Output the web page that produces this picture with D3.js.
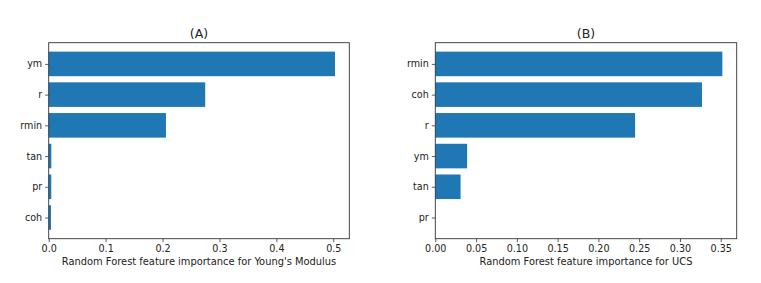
<!DOCTYPE html>
<html>
<head>
<meta charset="utf-8">
<script src="https://cdn.jsdelivr.net/npm/d3@7"></script>
<style>
    body { margin: 0; background: #fff; }
    svg { font-family: "DejaVu Sans", sans-serif; }
</style>
</head>
<body>
<div id="chart"></div>
<script>
// Feature names, top to bottom as shown
const featuresA = ["ym", "r", "rmin", "tan", "pr", "coh"];
const importanceA = [0.503, 0.275, 0.206, 0.0046, 0.0045, 0.004];
const ticksA = [0.0, 0.1, 0.2, 0.3, 0.4, 0.5];

const featuresB = ["rmin", "coh", "r", "ym", "tan", "pr"];
const importanceB = [0.352, 0.327, 0.245, 0.039, 0.031, 0.0];
const ticksB = [0.00, 0.05, 0.10, 0.15, 0.20, 0.25, 0.30, 0.35];

const width = 761, height = 283;

const svg = d3.select("#chart")
    .append("svg")
    .attr("width", width)
    .attr("height", height);

function drawPanel(opts) {
    const { left, right, top, bottom, names, values, ticks, fmt, title, xlabel } = opts;
    const g = svg.append("g");

    const maxVal = d3.max(values);
    const x = d3.scaleLinear()
        .domain([0, maxVal * 1.05])
        .range([left, right]);

    // matplotlib-style y limits: bars of height 0.8 with 5% margin
    const n = names.length;
    const lo = -0.4, hi = n - 1 + 0.4, pad = (hi - lo) * 0.05;
    const y = d3.scaleLinear()
        .domain([lo - pad, hi + pad])
        .range([top, bottom]);

    g.selectAll("rect.bar")
        .data(values)
        .enter().append("rect")
        .attr("class", "bar")
        .attr("x", x(0))
        .attr("y", (d, i) => y(i - 0.4))
        .attr("width", d => x(d) - x(0))
        .attr("height", y(0.4) - y(-0.4))
        .attr("fill", "#1f77b4");

    // frame
    g.append("rect")
        .attr("x", left)
        .attr("y", top)
        .attr("width", right - left)
        .attr("height", bottom - top)
        .attr("fill", "none")
        .attr("stroke", "#333")
        .attr("stroke-width", 0.9);

    const xAxis = d3.axisBottom(x)
        .tickValues(ticks)
        .tickFormat(fmt)
        .tickSize(3.5)
        .tickPadding(2.5);
    const xg = g.append("g")
        .attr("transform", `translate(0,${bottom})`)
        .call(xAxis);
    xg.select(".domain").remove();

    const yAxis = d3.axisLeft(y)
        .tickValues(d3.range(n))
        .tickFormat(i => names[i])
        .tickSize(3.5)
        .tickPadding(3);
    const yg = g.append("g")
        .attr("transform", `translate(${left},0)`)
        .call(yAxis);
    yg.select(".domain").remove();

    g.selectAll(".tick line").attr("stroke", "#333").attr("stroke-width", 0.8);
    g.selectAll(".tick text")
        .attr("fill", "#222")
        .style("font-size", "9.6px")
        .style("font-family", "DejaVu Sans, sans-serif");

    g.append("text")
        .attr("x", (left + right) / 2)
        .attr("y", top - 5)
        .attr("text-anchor", "middle")
        .style("font-size", "12.5px")
        .attr("fill", "#222")
        .text(title);

    g.append("text")
        .attr("x", (left + right) / 2)
        .attr("y", bottom + 26)
        .attr("text-anchor", "middle")
        .style("font-size", "9.9px")
        .attr("fill", "#222")
        .text(xlabel);
}

drawPanel({
    left: 48.7, right: 349.3, top: 42.7, bottom: 238.7,
    names: featuresA, values: importanceA, ticks: ticksA,
    fmt: d3.format(".1f"),
    title: "(A)",
    xlabel: "Random Forest feature importance for Young's Modulus"
});

drawPanel({
    left: 435.3, right: 736.7, top: 42.7, bottom: 238.7,
    names: featuresB, values: importanceB, ticks: ticksB,
    fmt: d3.format(".2f"),
    title: "(B)",
    xlabel: "Random Forest feature importance for UCS"
});
</script>
</body>
</html>
